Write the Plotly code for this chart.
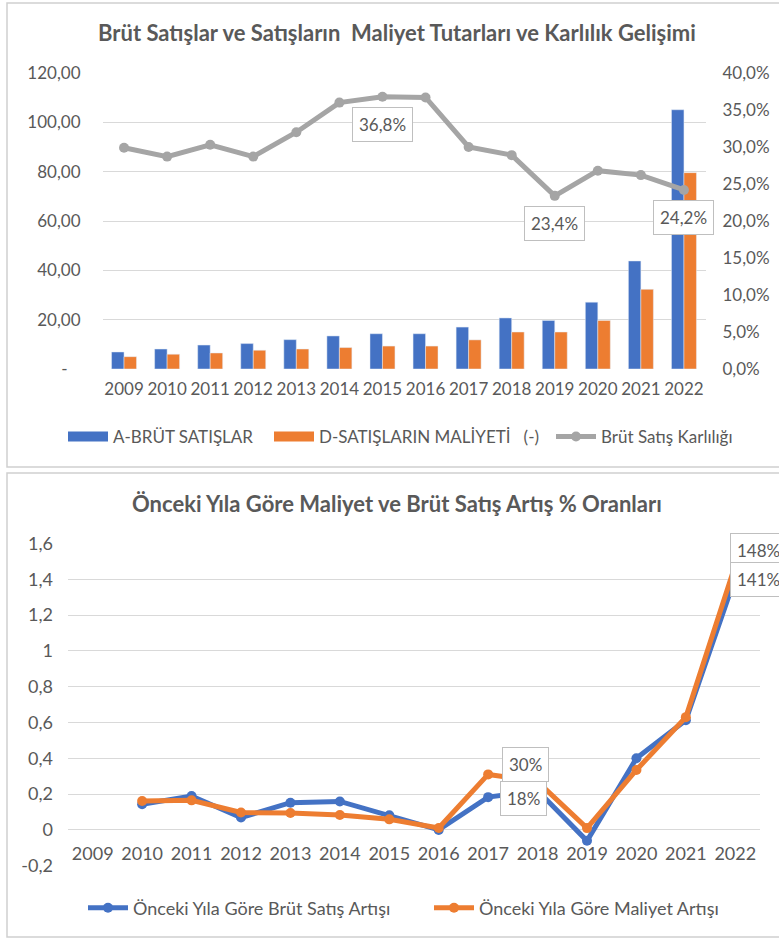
import plotly.graph_objects as go

W, H = 779, 941

years = [str(y) for y in range(2009, 2023)]
brut_satis = [6.9, 8.1, 9.7, 10.3, 11.9, 13.4, 14.3, 14.3, 17.0, 20.7, 19.7, 27.1, 43.8, 105.1]
maliyet = [5.0, 6.0, 6.5, 7.6, 8.1, 8.7, 9.3, 9.3, 11.8, 15.0, 15.0, 19.7, 32.3, 79.6]
karlilik = [0.299, 0.287, 0.303, 0.287, 0.320, 0.360, 0.368, 0.367, 0.300, 0.289, 0.234, 0.268, 0.262, 0.242]
karlilik_label_years = ["2015", "2019", "2022"]

satis_artis = [None, 0.143, 0.189, 0.069, 0.152, 0.159, 0.082, 0.0, 0.183, 0.22, -0.061, 0.40, 0.613, 1.41]
maliyet_artis = [None, 0.161, 0.165, 0.097, 0.094, 0.083, 0.059, 0.011, 0.31, 0.27, 0.01, 0.335, 0.63, 1.48]
artis_label_years = ["2017", "2022"]

left_ticks = [0, 20, 40, 60, 80, 100, 120]
left_ticktext = ["-\u00a0\u00a0\u00a0", "20,00", "40,00", "60,00", "80,00", "100,00", "120,00"]
right_ticks = [0, 0.05, 0.10, 0.15, 0.20, 0.25, 0.30, 0.35, 0.40]
right_ticktext = ["0,0%", "5,0%", "10,0%", "15,0%", "20,0%", "25,0%", "30,0%", "35,0%", "40,0%"]
bottom_ticks = [-0.2, 0, 0.2, 0.4, 0.6, 0.8, 1.0, 1.2, 1.4, 1.6]
bottom_ticktext = ["-0,2", "0", "0,2", "0,4", "0,6", "0,8", "1", "1,2", "1,4", "1,6"]

title_top = "Brüt Satışlar ve Satışların  Maliyet Tutarları ve Karlılık Gelişimi"
title_bottom = "Önceki Yıla Göre Maliyet ve Brüt Satış Artış % Oranları"

BLUE = "#4472C4"
ORANGE = "#ED7D31"
GRAY = "#A5A5A5"
TXT = "#595959"
GRID = "#D9D9D9"
FONT = "Lato"


def px_x(p):
    return p / W


def px_y(p):
    return 1 - p / H


fig = go.Figure()

fig.add_trace(go.Bar(x=years, y=brut_satis, name="A-BRÜT SATIŞLAR", marker_color=BLUE,
                     xaxis="x", yaxis="y", showlegend=False))
fig.add_trace(go.Bar(x=years, y=maliyet, name="D-SATIŞLARIN MALİYETİ   (-)", marker_color=ORANGE,
                     xaxis="x", yaxis="y", showlegend=False))
# legend keys for the bar series (wide rectangle keys)
fig.add_trace(go.Scatter(x=[None], y=[None], name="A-BRÜT SATIŞLAR", mode="lines",
                         line=dict(color=BLUE, width=10), xaxis="x", yaxis="y", legend="legend"))
fig.add_trace(go.Scatter(x=[None], y=[None], name="D-SATIŞLARIN MALİYETİ\u00a0\u00a0\u00a0(-)", mode="lines",
                         line=dict(color=ORANGE, width=10), xaxis="x", yaxis="y", legend="legend2"))
fig.add_trace(go.Scatter(x=years, y=karlilik, name="Brüt Satış Karlılığı", mode="lines+markers",
                         line=dict(color=GRAY, width=5), marker=dict(size=10, color=GRAY),
                         xaxis="x", yaxis="y2", legend="legend3"))

fig.add_trace(go.Scatter(x=years, y=satis_artis, name="Önceki Yıla Göre Brüt Satış Artışı",
                         mode="lines+markers", line=dict(color=BLUE, width=5),
                         marker=dict(size=10, color=BLUE), xaxis="x3", yaxis="y3", legend="legend4"))
fig.add_trace(go.Scatter(x=years, y=maliyet_artis, name="Önceki Yıla Göre Maliyet Artışı",
                         mode="lines+markers", line=dict(color=ORANGE, width=5),
                         marker=dict(size=10, color=ORANGE), xaxis="x3", yaxis="y3", legend="legend5"))

annotations = []
box = dict(bgcolor="white", bordercolor="#BFBFBF", borderwidth=1, borderpad=6,
           font=dict(family=FONT, size=17, color=TXT), showarrow=False)
for yr in karlilik_label_years:
    i = years.index(yr)
    v = karlilik[i]
    annotations.append(dict(x=i, y=v, xref="x", yref="y2", yshift=-28,
                            text=f"{v*100:.1f}".replace(".", ",") + "%", **box))

# bottom labels
yr = artis_label_years[0]
i = years.index(yr)
annotations.append(dict(x=i, y=maliyet_artis[i], xref="x3", yref="y3", xshift=37, yshift=10,
                        text=f"{round(maliyet_artis[i]*100, -1):.0f}%", **box))
annotations.append(dict(x=i, y=satis_artis[i], xref="x3", yref="y3", xshift=35, yshift=-1,
                        text=f"{satis_artis[i]*100:.0f}%", **box))
yr = artis_label_years[1]
i = years.index(yr)
annotations.append(dict(x=i, y=maliyet_artis[i], xref="x3", yref="y3", xshift=23, yshift=14,
                        text=f"{maliyet_artis[i]*100:.0f}%", **box))
annotations.append(dict(x=i, y=satis_artis[i], xref="x3", yref="y3", xshift=23, yshift=-2,
                        text=f"{satis_artis[i]*100:.0f}%", **box))

annotations.append(dict(x=px_x(397), y=px_y(32), xref="paper", yref="paper", text=f"<b>{title_top}</b>",
                        xanchor="center", yanchor="middle",
                        showarrow=False, font=dict(family=FONT, size=22, color=TXT)))
annotations.append(dict(x=px_x(397), y=px_y(503), xref="paper", yref="paper", text=f"<b>{title_bottom}</b>",
                        xanchor="center", yanchor="middle",
                        showarrow=False, font=dict(family=FONT, size=22, color=TXT)))

shapes = [
    dict(type="rect", xref="paper", yref="paper", x0=px_x(7), x1=px_x(790), y0=px_y(467), y1=px_y(3),
         line=dict(color="#D0D0D0", width=1.5)),
    dict(type="rect", xref="paper", yref="paper", x0=px_x(7), x1=px_x(790), y0=px_y(937), y1=px_y(473),
         line=dict(color="#D0D0D0", width=1.5)),
]

tickfont_top = dict(family=FONT, size=17, color=TXT)
tickfont_bot = dict(family=FONT, size=18, color=TXT)


def leg(xp, yp, size, iw=40):
    return dict(x=px_x(xp), y=px_y(yp), xanchor="left", yanchor="middle", orientation="h",
                font=dict(family=FONT, size=size, color=TXT), bgcolor="rgba(0,0,0,0)", itemwidth=iw)


fig.update_layout(
    width=W, height=H, margin=dict(l=0, r=0, t=0, b=0, autoexpand=False),
    paper_bgcolor="white", plot_bgcolor="white",
    separators=",.",
    barmode="group", bargap=0.42, bargroupgap=0,
    font=dict(family=FONT, color=TXT),
    xaxis=dict(type="category", categoryorder="array", categoryarray=years, range=[-0.5, 13.5],
               domain=[px_x(102.5), px_x(705.5)], anchor="y", showgrid=False, showline=False,
               ticks="", tickfont=tickfont_top, ticklabelstandoff=8),
    yaxis=dict(domain=[px_y(369), px_y(73)], range=[0, 120], tickvals=left_ticks, ticktext=left_ticktext,
               gridcolor=GRID, gridwidth=1, zeroline=False, showline=False, tickfont=tickfont_top,
               ticklabelstandoff=21, anchor="x"),
    yaxis2=dict(overlaying="y", side="right", range=[0, 0.4], tickvals=right_ticks, ticktext=right_ticktext,
                showgrid=False, zeroline=False, showline=False, tickfont=tickfont_top, anchor="x",
                ticklabelstandoff=16),
    xaxis3=dict(type="category", categoryorder="array", categoryarray=years, range=[-0.5, 13.5],
                domain=[px_x(68), px_x(760)], anchor="free", position=px_y(829.7), showgrid=False,
                showline=False, ticks="", tickfont=tickfont_bot, ticklabelstandoff=11),
    yaxis3=dict(domain=[px_y(865.7), px_y(543.5)], range=[-0.2, 1.6], tickvals=bottom_ticks,
                ticktext=bottom_ticktext, gridcolor=GRID, gridwidth=1, zeroline=False, showline=False,
                tickfont=tickfont_bot, anchor="x3", ticklabelstandoff=14),
    legend=leg(63, 437, 17),
    legend2=leg(269, 437, 17),
    legend3=leg(551, 437, 17),
    legend4=leg(83, 908, 18),
    legend5=leg(429, 908, 18),
    annotations=annotations,
    shapes=shapes,
    showlegend=True,
)

fig.write_html("out.html", config={"displayModeBar": False},
               post_script="document.body.style.margin='0';")
